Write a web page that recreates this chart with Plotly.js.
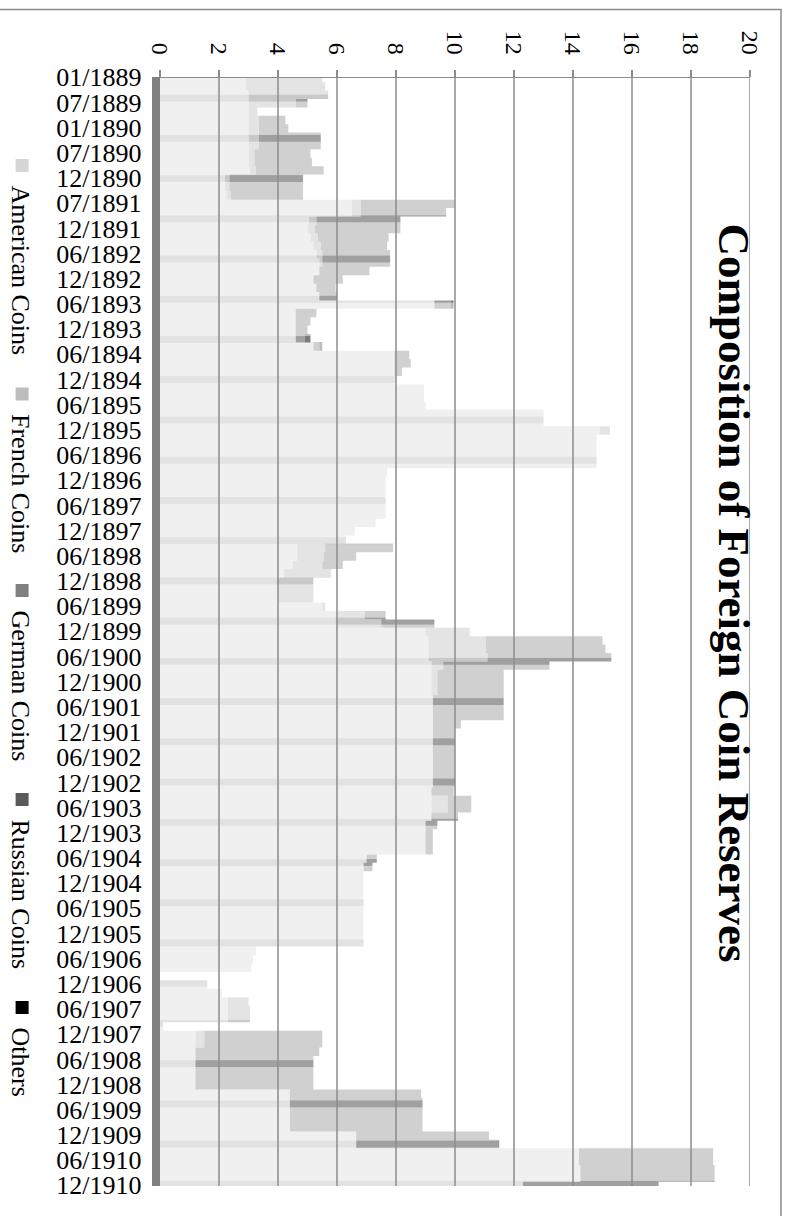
<!DOCTYPE html>
<html><head><meta charset="utf-8">
<script src="https://cdn.plot.ly/plotly-3.0.1.min.js"></script>
<style>
html,body{margin:0;padding:0;width:787px;height:1216px;overflow:hidden;background:#fff;}
#chart{position:absolute;left:787px;top:0;width:1216px;height:787px;transform-origin:0 0;transform:rotate(90deg);}
</style></head><body><div id="chart"></div>
<script>
const tickLabels = ['01/1889','07/1889','01/1890','07/1890','12/1890','07/1891','12/1891',
 '06/1892','12/1892','06/1893','12/1893','06/1894','12/1894','06/1895','12/1895','06/1896','12/1896',
 '06/1897','12/1897','06/1898','12/1898','06/1899','12/1899','06/1900','12/1900','06/1901','12/1901',
 '06/1902','12/1902','06/1903','12/1903','06/1904','12/1904','06/1905','12/1905','06/1906','12/1906',
 '06/1907','12/1907','06/1908','12/1908','06/1909','12/1909','06/1910','12/1910'];
const pointsPerLabel = 3;

const american = [
 2.9,2.9,3.0,3.0,3.0,3.0,3.0,3.0,3.0,3.0,3.0,3.05,
 2.2,2.2,2.25,6.5,6.5,5.05,5.0,5.1,5.2,5.3,5.4,5.4,
 5.2,5.3,5.4,9.3,4.6,4.6,4.6,4.6,5.2,7.95,7.95,7.95,
 8.0,8.95,8.95,9.0,13.0,13.0,14.9,14.8,14.8,14.8,14.8,7.7,
 7.65,7.65,7.65,7.65,7.65,7.3,6.6,6.3,4.65,4.65,4.5,4.2,
 3.95,4.0,4.0,5.5,5.95,5.95,9.0,9.1,9.1,9.1,9.2,9.2,
 9.2,9.2,9.25,9.25,9.25,9.25,9.25,9.25,9.25,9.25,9.25,9.25,
 9.25,9.2,9.2,9.2,9.2,9.0,9.0,9.0,9.0,7.0,6.9,6.9,
 6.9,6.9,6.9,6.9,6.9,6.9,6.9,6.9,3.25,3.15,3.1,0.0,
 1.6,2.1,2.3,2.3,2.3,0.1,1.2,1.2,1.2,1.2,1.2,1.2,
 1.2,4.4,4.4,4.4,4.4,4.4,6.65,6.65,14.2,14.2,14.25,14.25,
 12.3];
const french = [
 2.6,2.7,2.7,1.6,0.3,0.35,0.35,0.35,0.35,0.2,0.2,0.2,
 0.15,0.15,0.15,0.3,0.3,0.25,0.25,0.25,0.25,0.2,0.1,0,
 0,0,0,0,0,0,0,0,0,0,0,0,
 0,0,0,0,0,0,0.35,0,0,0,0,0,
 0,0,0,0,0,0,0,0,0.95,0.9,1.0,1.6,
 1.25,1.2,1.2,0.1,1.0,1.55,1.5,1.95,1.95,2.0,0.4,0.2,
 0.2,0.2,0,0,0,0,0,0,0,0,0,0,
 0,0,0.55,0.55,0,0,0,0,0,0,0,0,
 0,0,0,0,0,0,0,0,0,0,0,0,
 0,0,0.7,0.75,0.75,0,0.3,0.3,0,0,0,0,
 0,0,0,0,0,0,0,0,0,0,0,0,
 0];
const german = [
 0,0,0,0.4,0,0.9,1.0,2.1,2.1,1.9,1.95,2.3,
 2.5,2.5,2.45,3.2,2.9,2.85,2.9,2.4,2.25,2.3,2.3,1.7,
 1.0,0.65,0.6,0.55,0.7,0.5,0.4,0.3,0.2,0.5,0.55,0.25,
 0,0,0,0,0,0,0,0,0,0,0,0,
 0,0,0,0,0,0,0,0,2.3,1.1,0.7,0,
 0,0,0,0,0.7,1.8,0,3.95,4.05,4.2,3.6,2.25,
 2.25,2.25,2.4,2.4,2.4,0.95,0.75,0.75,0.75,0.75,0.75,0.75,
 0.75,0.75,0.8,0.8,0.9,0.4,0.25,0.25,0.25,0.35,0.3,0,
 0,0,0,0,0,0,0,0,0,0,0,0,
 0,0,0,0,0,0,4.0,4.0,4.2,4.0,4.0,4.0,
 4.0,4.45,4.5,4.5,4.5,4.5,4.5,4.85,4.55,4.55,4.55,4.55,
 4.6];
const russian = [
 0,0,0,0,0,0,0,0,0,0,0,0,
 0,0,0,0,0,0,0,0,0,0,0,0,
 0,0,0,0.1,0,0,0,0.2,0.1,0,0,0,
 0,0,0,0,0,0,0,0,0,0,0,0,
 0,0,0,0,0,0,0,0,0,0,0,0,
 0,0,0,0,0,0,0,0,0,0,0,0,
 0,0,0,0,0,0,0,0,0,0,0,0,
 0,0,0,0,0,0,0,0,0,0,0,0,
 0,0,0,0,0,0,0,0,0,0,0,0,
 0,0,0,0,0,0,0,0,0,0,0,0,
 0,0,0,0,0,0,0,0,0,0,0,0,
 0];
const others = [
 0,0,0,0,0,0,0,0,0,0,0,0,
 0,0,0,0,0,0,0,0,0,0,0,0,
 0,0,0,0,0,0,0,0,0,0,0,0,
 0,0,0,0,0,0,0,0,0,0,0,0,
 0,0,0,0,0,0,0,0,0,0,0,0,
 0,0,0,0,0,0,0,0,0,0,0,0,
 0,0,0,0,0,0,0,0,0,0,0,0,
 0,0,0,0,0,0,0,0,0,0,0,0,
 0,0,0,0,0,0,0,0,0,0,0,0,
 0,0,0,0,0,0,0,0,0,0,0,0,
 0,0,0,0,0,0,0,0,0,0,0,0,
 0];
const seriesNames = ['American Coins','French Coins','German Coins','Russian Coins','Others'];
const valueTicks = [0,2,4,6,8,10,12,14,16,18,20];
const titleText = 'Composition of Foreign Coin Reserves';

const legendColors = ['#d6d6d6','#bdbdbd','#808080','#5a5a5a','#000000'];
const fillColors = ['#f0f0f0','#e4e4e4','#d0d0d0','#bdbdbd','#999999'];
const bandColors = ['#e2e2e2','#c9c9c9','#a0a0a0','#7a7a7a','#555555'];
// horizontal pixel position (unrotated) of each legend entry
const legendPos = [145.5, 374, 570.5, 779.5, 987.5];

const W = 1216, H = 787;
const M = {l:77.5, r:29.7, t:37, b:160};
const PW = W - M.l - M.r, PH = H - M.t - M.b;
const FONT = 'Liberation Serif, Times New Roman, serif';

const series = [american, french, german, russian, others];
const xs = american.map((_, i) => i);
const legendIds = seriesNames.map((_, k) => k === 0 ? 'legend' : 'legend' + (k + 1));

const traces = series.map((s, k) => ({
  type: 'scatter', x: xs, y: s, stackgroup: 'coins', mode: 'lines',
  line: {shape: 'hvh', width: 0, color: fillColors[k]},
  fillcolor: fillColors[k],
  fillpattern: {shape: '|', size: 40.23, solidity: 0.17, fgcolor: bandColors[k], bgcolor: fillColors[k]},
  showlegend: false, hoverinfo: 'skip', name: seriesNames[k]
}));
seriesNames.forEach((n, k) => traces.push({
  type: 'scatter', x: [null], y: [null], mode: 'markers', name: n, legend: legendIds[k],
  marker: {symbol: 'square', size: 13, color: legendColors[k]}, showlegend: true, hoverinfo: 'skip'
}));

const px2paperX = p => (p - M.l) / PW;
const px2paperY = p => (H - M.b - p) / PH;

const shapes = valueTicks.filter(v => v > 0).map(v => ({
  type: 'line', xref: 'paper', x0: 0, x1: 1, yref: 'y', y0: v, y1: v,
  line: {color: '#8c8c8c', width: 1.5}, layer: 'above'
}));
shapes.push({type: 'rect', xref: 'paper', yref: 'paper',
  x0: px2paperX(9), x1: px2paperX(1260), y0: px2paperY(6), y1: px2paperY(830),
  line: {color: '#8c8c8c', width: 1.5}, fillcolor: 'rgba(0,0,0,0)', layer: 'below'});

const layout = {
  width: W, height: H,
  margin: {l: M.l, r: M.r, t: M.t, b: M.b, pad: 0},
  paper_bgcolor: '#ffffff', plot_bgcolor: '#ffffff',
  font: {family: FONT, color: '#000000'},
  title: {text: titleText, font: {family: FONT, size: 45, weight: 700, color: '#000'},
    xref: 'container', yref: 'container', x: 593 / W, y: 1 - 52 / H, xanchor: 'center', yanchor: 'middle'},
  xaxis: {range: [0, (tickLabels.length - 1) * pointsPerLabel], tickmode: 'array',
    tickvals: tickLabels.map((_, i) => i * pointsPerLabel), ticktext: tickLabels,
    tickangle: -90, tickfont: {size: 26, family: FONT}, showgrid: false, zeroline: false,
    showline: true, linecolor: '#808080', linewidth: 8, ticks: '', fixedrange: true},
  yaxis: {range: [0, 20], tickmode: 'array', tickvals: valueTicks, ticks: 'outside', ticklen: 7,
    tickcolor: '#8c8c8c', tickwidth: 1.5, showline: true, linecolor: '#8c8c8c', linewidth: 1.5,
    showgrid: false, zeroline: false, tickfont: {size: 24, family: FONT}, ticklabelstandoff: 10, fixedrange: true},
  showlegend: true,
  shapes: shapes
};
legendIds.forEach((id, k) => {
  layout[id] = {orientation: 'h', xref: 'container', yref: 'container', x: legendPos[k] / W, y: 1 - 765 / H,
    xanchor: 'left', yanchor: 'middle', font: {size: 26, family: FONT, color: '#000'},
    bgcolor: 'rgba(0,0,0,0)', borderwidth: 0};
});

Plotly.newPlot('chart', traces, layout, {staticPlot: true, displayModeBar: false});
</script></body></html>
